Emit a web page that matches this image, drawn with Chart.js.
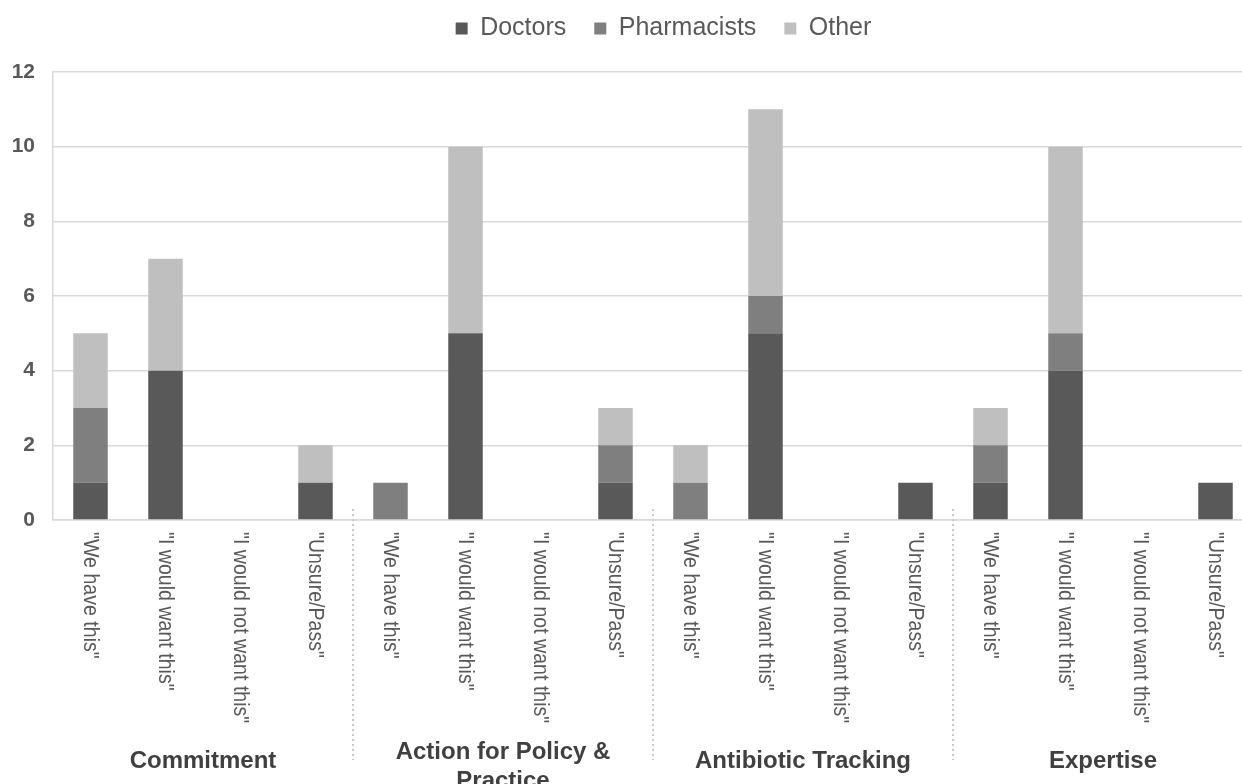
<!DOCTYPE html>
<html>
<head>
<meta charset="utf-8">
<script src="https://cdn.jsdelivr.net/npm/chart.js@4"></script>
<style>
  html, body { margin: 0; padding: 0; background: #fff; overflow: hidden; }
  #wrap { width: 1253px; height: 784px; }
</style>
</head>
<body>
<div id="wrap"><canvas id="chart" width="1253" height="784"></canvas></div>
<script>
// ----------------------
// DATA
// ----------------------
const answers = ['"We have this"', '"I would want this"', '"I would not want this"', '"Unsure/Pass"'];
const groups = ['Commitment', ['Action for Policy &', 'Practice'], 'Antibiotic Tracking', 'Expertise'];
const labels = [].concat(answers, answers, answers, answers);

const doctors     = [1, 4, 0, 1,  0, 5, 0, 1,  0, 5, 0, 1,  1, 4, 0, 1];
const pharmacists = [2, 0, 0, 0,  1, 0, 0, 1,  1, 1, 0, 0,  1, 1, 0, 0];
const other       = [2, 3, 0, 1,  0, 5, 0, 1,  1, 5, 0, 0,  1, 5, 0, 0];

const yTicks = [0, 2, 4, 6, 8, 10, 12];

const FONT = "'Liberation Sans', Arial, Helvetica, sans-serif";

// ----------------------
// PLUGINS
// ----------------------

// legend sits a bit right of centre and close to the top in the original
const legendShift = {
  id: 'legendShift',
  afterLayout(chart) {
    const lg = chart.legend;
    lg.left += 37;
    lg.right += 37;
    lg.top -= 21;
    lg.bottom -= 21;
  }
};

// rotated category labels, group names and dotted dividers
const categoryAxis = {
  id: 'categoryAxis',
  afterDraw(chart) {
    const ctx = chart.ctx;
    const x = chart.scales.x;
    const bottom = chart.chartArea.bottom;

    ctx.save();
    ctx.fillStyle = '#595959';
    ctx.font = '22px ' + FONT;
    ctx.textAlign = 'left';
    ctx.textBaseline = 'middle';
    labels.forEach((lab, i) => {
      ctx.save();
      ctx.translate(x.getPixelForValue(i), bottom + 12);
      ctx.rotate(Math.PI / 2);
      ctx.scale(0.89, 1); // labels look slightly squeezed along their length
      ctx.fillText(lab, 0, 0);
      ctx.restore();
    });

    // group names
    ctx.fillStyle = '#404040';
    ctx.font = 'bold 24px ' + FONT;
    ctx.textAlign = 'center';
    groups.forEach((g, gi) => {
      const cx = (x.getPixelForValue(gi * 4) + x.getPixelForValue(gi * 4 + 3)) / 2;
      if (Array.isArray(g)) {
        g.forEach((line, li) => ctx.fillText(line, cx, bottom + 232 + li * 29));
      } else {
        ctx.fillText(g, cx, bottom + 241);
      }
    });

    // dotted dividers
    ctx.strokeStyle = '#c8c8c8';
    ctx.lineWidth = 2;
    ctx.setLineDash([2, 3]);
    for (let gi = 1; gi < groups.length; gi++) {
      const px = Math.round((x.getPixelForValue(gi * 4 - 1) + x.getPixelForValue(gi * 4)) / 2);
      ctx.beginPath();
      ctx.moveTo(px, bottom - 11);
      ctx.lineTo(px, bottom + 240);
      ctx.stroke();
    }
    ctx.restore();
  }
};

// ----------------------
// CHART
// ----------------------
const ctx = document.getElementById('chart').getContext('2d');

new Chart(ctx, {
  type: 'bar',
  data: {
    labels: labels,
    datasets: [
      { label: 'Doctors', data: doctors, backgroundColor: '#595959' },
      { label: 'Pharmacists', data: pharmacists, backgroundColor: '#7f7f7f' },
      { label: 'Other', data: other, backgroundColor: '#bfbfbf' }
    ]
  },
  options: {
    responsive: false,
    animation: false,
    layout: { padding: { top: 9, left: 0, right: 0, bottom: 0 } },
    datasets: {
      bar: { categoryPercentage: 1, barPercentage: 0.46, borderWidth: 0 }
    },
    plugins: {
      tooltip: { enabled: false },
      legend: {
        position: 'top',
        labels: {
          boxWidth: 12,
          boxHeight: 12,
          padding: 28,
          color: '#595959',
          font: { family: FONT, size: 25 }
        }
      }
    },
    scales: {
      x: {
        stacked: true,
        grid: { display: false },
        border: { color: '#d9d9d9', width: 1.5 },
        ticks: { display: false },
        afterFit(scale) { scale.height = 264; }
      },
      y: {
        stacked: true,
        min: 0,
        max: 12,
        afterBuildTicks(scale) { scale.ticks = yTicks.map(v => ({ value: v })); },
        grid: { color: '#d9d9d9', lineWidth: 1.5, drawTicks: false },
        border: { color: '#d9d9d9', width: 1.5 },
        ticks: {
          padding: 18,
          color: '#595959',
          font: { family: FONT, size: 21, weight: 'bold' }
        },
        afterFit(scale) { scale.width = 53; }
      }
    }
  },
  plugins: [legendShift, categoryAxis]
});
</script>
</body>
</html>
